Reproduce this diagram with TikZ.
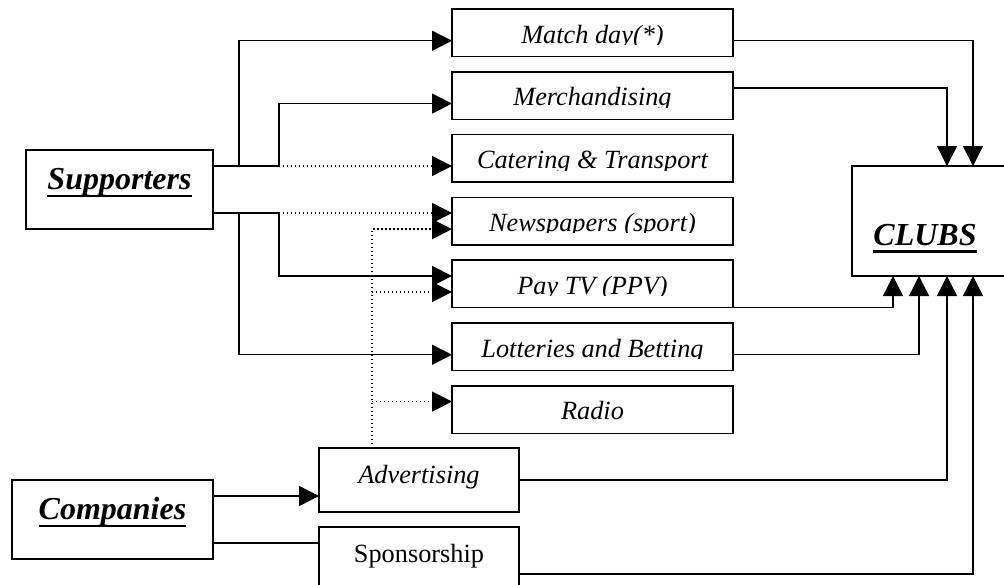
\documentclass[tikz,border=0pt]{standalone}
\usepackage{fontspec}
\setmainfont{Liberation Serif}
\usepackage{tikz}
\usetikzlibrary{positioning, arrows.meta}

\newcommand{\headfont}{\bfseries\itshape\fontsize{32}{36}\selectfont}
\newcommand{\srcfont}{\itshape\fontsize{26.3}{30}\selectfont}
\newcommand{\ulbox}[1]{\setbox0=\hbox{#1}\rlap{\copy0}\rule[-7.5pt]{\wd0}{2.5pt}}

\tikzset{
	box/.style={draw, line width=1.5pt, inner sep=0pt, outer sep=0pt},
	party/.style={box, font=\headfont, text height=12pt, text depth=12pt, minimum height=79pt},
	media/.style={box, minimum width=200pt, minimum height=64pt, text height=18pt, text depth=11pt, font=\fontsize{26.3}{30}\selectfont},
	src/.style={box, minimum width=281pt, minimum height=47.5pt,
		path picture={
			\clip (path picture bounding box.north west) rectangle ([yshift=12pt]path picture bounding box.south east);
			\node[draw=none, inner sep=0pt, anchor=base, font=\srcfont] at ([yshift=13.5pt]path picture bounding box.south) {#1};
		}},
	link/.style={line width=1.4pt},
	flow/.style={link, -{Triangle[length=20pt, width=20pt]}},
	dotline/.style={dash pattern=on 1.4pt off 2.6pt},
}

\begin{document}
\begin{tikzpicture}[x=1pt, y=-1pt, node distance=15.3pt]
	\useasboundingbox (0,0) rectangle (1004,584);
	\clip (0,0) rectangle (1004,584);

	\node[party, minimum width=187pt] (supp) at (119.5,189.5) {\ulbox{Supporters}};
	\node[party, minimum width=201pt] (comp) at (112.5,519.5) {\ulbox{Companies}};

	\node[src={Match day(*)}]                     (match)  at (592.5,32.75) {};
	\node[src={Merchandising}, below=of match]         (merch)  {};
	\node[src={Catering \& Transport}, below=of merch] (cater)  {};
	\node[src={Newspapers (sport)}, below=of cater]    (news)   {};
	\node[src={Pay TV (PPV)}, below=of news]           (paytv)  {};
	\node[src={Lotteries and Betting}, below=of paytv] (lotto)  {};
	\node[src={Radio}, below=of lotto]                 (radio)  {};

	\node[media, font=\srcfont]             (advert)  at (419,480) {Advertising};
	\node[media, below=15pt of advert]      (sponsor) {Sponsorship};

	\node[box, anchor=north west, minimum width=170pt, minimum height=110pt] (clubs) at (852,166) {};
	\node[font=\headfont, anchor=base] (clubsname) at (925,245) {\ulbox{CLUBS}};

	\foreach \n in {match,merch,cater,news,paytv,lotto,radio}{
		\coordinate (\n-up) at ([yshift=8pt]\n.west);
		\coordinate (\n-lo) at ([yshift=-8pt]\n.west);
	}
	\foreach \i/\d in {1/41,2/67,3/95,4/121}
		\coordinate (clubs-\i) at ([xshift=\d pt]clubs.south west);

	\coordinate (sa)  at ([yshift=-16pt]supp.north east);
	\coordinate (sb)  at ([yshift=16pt]supp.south east);
	\coordinate (sa1) at ([xshift=26pt]sa);
	\coordinate (sa2) at ([xshift=66pt]sa);
	\coordinate (sb1) at ([xshift=26pt]sb);
	\coordinate (sb2) at ([xshift=66pt]sb);
	\coordinate (ad)  at ([xshift=53pt]advert.north west);
	\coordinate (ca)  at ([yshift=-16pt]comp.north east);
	\coordinate (cb)  at ([yshift=16pt]comp.south east);

	\draw[flow] (sa) -- (sa1) |- (match-lo);
	\draw[flow] (sa1) -- (sa2) |- (merch-lo);
	\draw[flow, dotline] (sa2) -- (sa2 -| cater.west);
	\draw[flow, dotline] (sb2) -- (sb2 -| news.west);
	\draw[flow] (sb) -- (sb1) |- (lotto-lo);
	\draw[flow] (sb1) -- (sb2) |- (paytv-up);

	\draw[flow, dotline] (ad) |- (news-lo);
	\draw[flow, dotline] (ad |- paytv-lo) -- (paytv-lo);
	\draw[flow, dotline] (ad |- radio-up) -- (radio-up);

	\draw[flow] (ca) -- (ca -| advert.west);
	\draw[link] (cb) -- (cb -| sponsor.west);

	\draw[flow] ([yshift=-8pt]match.east) -| (clubs-4 |- clubs.north);
	\draw[flow] ([yshift=7.5pt]merch.east) -| (clubs-3 |- clubs.north);
	\draw[flow] (paytv.south east) -| (clubs-1);
	\draw[flow] ([yshift=-8pt]lotto.east) -| (clubs-2);
	\draw[flow] (advert.east) -| (clubs-3);
	\draw[flow] ([yshift=-47pt]sponsor.north east) -| (clubs-4);
\end{tikzpicture}
\end{document}
